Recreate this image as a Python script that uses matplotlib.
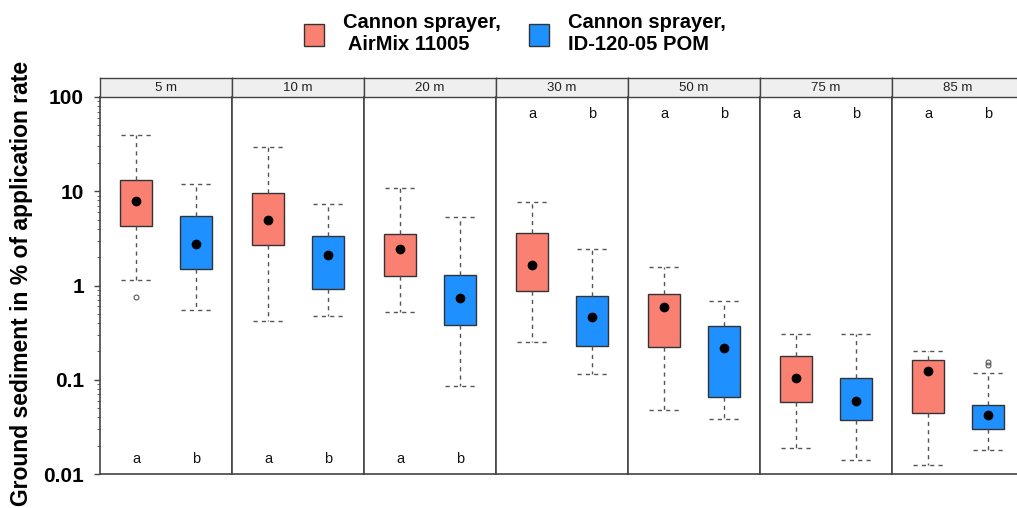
import matplotlib
matplotlib.use("Agg")
import matplotlib.pyplot as plt
from matplotlib.patches import Patch
from matplotlib.ticker import LogLocator, NullFormatter, FixedLocator

# --- data (values in % of application rate) ---
distances = ["5 m", "10 m", "20 m", "30 m", "50 m", "75 m", "85 m"]
series = ["Cannon sprayer,\n AirMix 11005", "Cannon sprayer,\nID-120-05 POM"]
colors = ["#FA8072", "#1E90FF"]

airmix_whislo = [1.14, 0.42, 0.52, 0.25, 0.048, 0.019, 0.0125]
airmix_q1     = [4.3, 2.67, 1.26, 0.875, 0.224, 0.058, 0.044]
airmix_med    = [7.9, 4.95, 2.42, 1.65, 0.59, 0.105, 0.124]
airmix_q3     = [13.2, 9.5, 3.5, 3.57, 0.805, 0.18, 0.162]
airmix_whishi = [40.0, 29.7, 10.8, 7.6, 1.58, 0.305, 0.204]
airmix_out    = [[0.76], [], [], [], [], [], []]

pom_whislo = [0.55, 0.48, 0.0865, 0.115, 0.038, 0.0141, 0.018]
pom_q1     = [1.49, 0.91, 0.384, 0.23, 0.0656, 0.037, 0.030]
pom_med    = [2.75, 2.12, 0.73, 0.46, 0.215, 0.060, 0.042]
pom_q3     = [5.46, 3.35, 1.29, 0.77, 0.37, 0.1035, 0.054]
pom_whishi = [11.8, 7.27, 5.37, 2.42, 0.68, 0.305, 0.117]
pom_out    = [[], [], [], [], [], [], [0.155, 0.145]]

letters = ["a", "b"]
letters_on_top = [False, False, False, True, True, True, True]

W, H = 1017, 508
fig = plt.figure(figsize=(W / 100, H / 100), dpi=100)
plt.rcParams['font.family'] = ['Liberation Sans', 'DejaVu Sans']

# panel geometry in pixels
x0, panel_w = 100, 132
y_top, y_bot = 97, 474
strip_top = 78
frame_col = "#444444"

def stats(lo, q1, med, q3, hi, out):
    return dict(whislo=lo, q1=q1, med=med, q3=q3, whishi=hi, mean=med, fliers=out)

for i, dist in enumerate(distances):
    left = (x0 + i * panel_w) / W
    ax = fig.add_axes([left, (H - y_bot) / H, panel_w / W, (y_bot - y_top) / H])
    groups = [
        stats(airmix_whislo[i], airmix_q1[i], airmix_med[i], airmix_q3[i], airmix_whishi[i], airmix_out[i]),
        stats(pom_whislo[i], pom_q1[i], pom_med[i], pom_q3[i], pom_whishi[i], pom_out[i]),
    ]
    bp = ax.bxp(groups, positions=[1, 2], widths=0.52, capwidths=0.5,
                patch_artist=True, showmeans=True, meanline=False,
                boxprops=dict(edgecolor="#333333", linewidth=1.0),
                whiskerprops=dict(color="#555555", linestyle=(0, (3, 3)), linewidth=1.0),
                capprops=dict(color="#555555", linestyle=(0, (3, 3)), linewidth=1.0),
                medianprops=dict(linestyle="none"),
                meanprops=dict(marker="o", markerfacecolor="black", markeredgecolor="black",
                               markersize=6),
                flierprops=dict(marker="o", markerfacecolor="none", markeredgecolor="#555555",
                                markersize=3.5, markeredgewidth=0.8))
    for patch, c in zip(bp["boxes"], colors):
        patch.set_facecolor(c)

    ax.set_yscale("log")
    ax.set_ylim(0.01, 100)
    ax.set_xlim(0.4, 2.6)
    ax.set_xticks([])

    for s in ["left", "right", "bottom", "top"]:
        ax.spines[s].set_color(frame_col)
        ax.spines[s].set_linewidth(1.2)

    ly = 66 if letters_on_top[i] else 0.0145
    for pos, t in zip([1, 2], letters):
        ax.text(pos, ly, t, ha="center", va="center", fontsize=10.5, color="#111111")

    if i == 0:
        ax.yaxis.set_major_locator(FixedLocator([0.01, 0.1, 1, 10, 100]))
        ax.set_yticklabels(["0.01", "0.1", "1", "10", "100"], fontsize=15, fontweight="bold")
        ax.yaxis.set_minor_locator(LogLocator(base=10, subs=range(2, 10)))
        ax.yaxis.set_minor_formatter(NullFormatter())
        ax.tick_params(axis="y", which="major", length=4.5, width=1, color="#444444", pad=7)
        ax.tick_params(axis="y", which="minor", length=2.5, width=0.7, color="#666666")
    else:
        ax.tick_params(axis="y", which="both", left=False, labelleft=False)

    # strip header
    sax = fig.add_axes([left, (H - y_top) / H, panel_w / W, (y_top - strip_top) / H])
    sax.set_xticks([])
    sax.set_yticks([])
    sax.set_facecolor("#EFEFEF")
    for s in sax.spines.values():
        s.set_color(frame_col)
        s.set_linewidth(1.0)
    sax.text(0.5, 0.45, dist, ha="center", va="center", fontsize=9.5,
             color="#222222", transform=sax.transAxes)

fig.text(22 / W, (H - 283) / H, "Ground sediment in % of application rate", rotation=90,
         ha="center", va="center", fontsize=16.5, fontweight="bold")

handles = [Patch(facecolor=c, edgecolor="#333333", linewidth=1.0) for c in colors]
fig.legend(handles, series, loc="center", bbox_to_anchor=(515 / W, 1 - 34 / H), ncol=2,
           frameon=False, prop=dict(weight="bold", size=14.5), handlelength=1.0,
           handleheight=1.3, columnspacing=1.4, handletextpad=0.95)

fig.savefig("out.png", dpi=100)
